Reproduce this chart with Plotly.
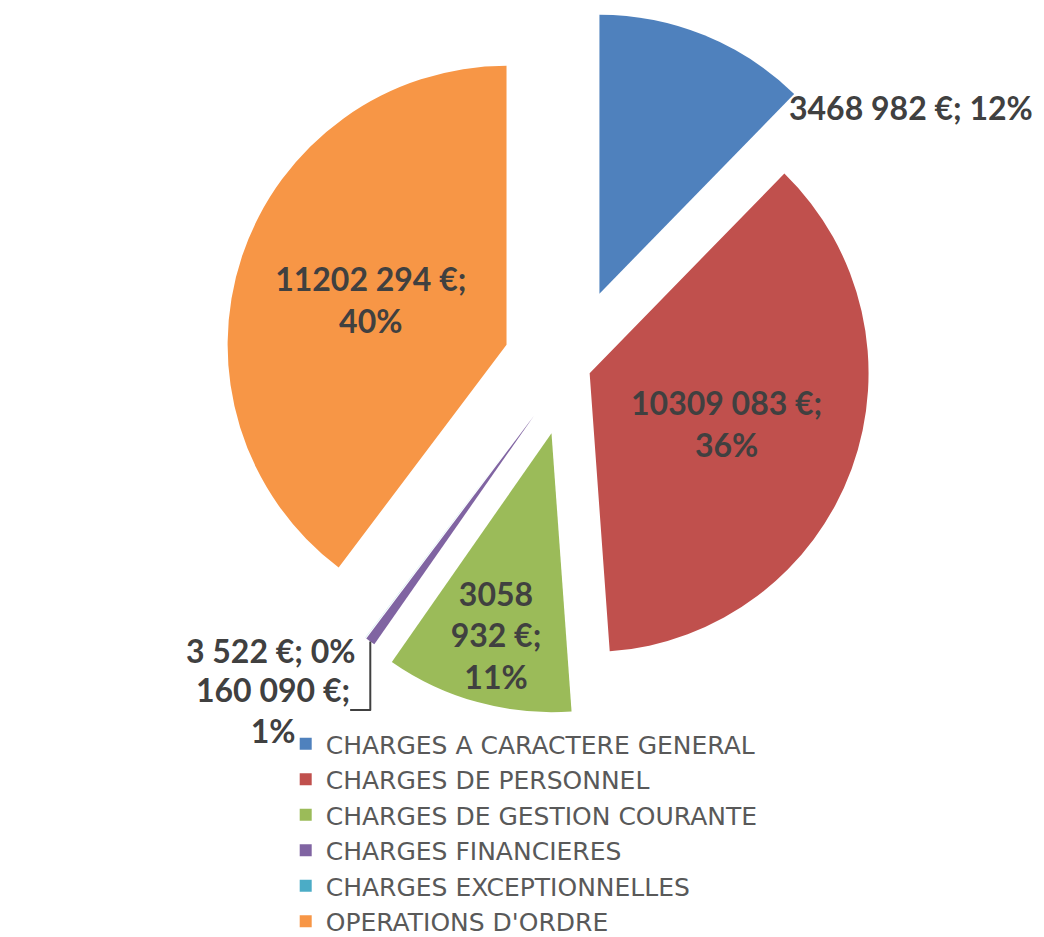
import plotly.graph_objects as go

categories = [
    "CHARGES A CARACTERE GENERAL",
    "CHARGES DE PERSONNEL",
    "CHARGES DE GESTION COURANTE",
    "CHARGES FINANCIERES",
    "CHARGES EXCEPTIONNELLES",
    "OPERATIONS D'ORDRE",
]
values = [3468982, 10309083, 3058932, 160090, 3522, 11202294]
label_texts = [
    "3468 982 €; 12%",
    "10309 083 €;<br>36%",
    "3058<br>932 €;<br>11%",
    "160 090 €;<br>1%",
    "3 522 €; 0%",
    "11202 294 €;<br>40%",
]
colors = ["#4F81BD", "#C0504D", "#9BBB59", "#8064A2", "#4BACC6", "#F79646"]
pulls = [0.28, 0.075, 0.25, 0.22, 0.22, 0.24]
# first slice's label is drawn as a separate annotation (placed beside its slice)
text_positions = ["none", "inside", "inside", "outside", "outside", "inside"]

W, H = 1044, 937
cx, cy = 562, 358
half = 357
label_font = dict(family="Lato, Calibri, sans-serif", size=32, color="#404040", weight="bold")

fig = go.Figure(
    go.Pie(
        labels=categories,
        values=values,
        text=label_texts,
        textinfo="text",
        textposition=text_positions,
        insidetextorientation="horizontal",
        sort=False,
        direction="clockwise",
        rotation=0,
        pull=pulls,
        automargin=False,
        marker=dict(colors=colors, line=dict(width=0)),
        textfont=label_font,
        domain=dict(x=[(cx - half) / W, (cx + half) / W],
                    y=[max(0, 1 - (cy + half) / H), min(1, 1 - (cy - half) / H)]),
        hoverinfo="label+value+percent",
    )
)

fig.add_annotation(
    text=label_texts[0],
    xref="paper", yref="paper",
    x=779 / W, y=1 - 100 / H,
    xanchor="left", yanchor="middle",
    showarrow=False,
    font=label_font,
)

fig.update_layout(
    width=W,
    height=H,
    margin=dict(l=0, r=0, t=0, b=0, autoexpand=False),
    paper_bgcolor="white",
    plot_bgcolor="white",
    uniformtext=dict(minsize=32, mode="show"),
    showlegend=True,
    legend=dict(
        x=0.266, y=0.239, xanchor="left", yanchor="top",
        font=dict(family="DejaVu Sans, Calibri, sans-serif", size=25, color="#595959"),
        bgcolor="rgba(0,0,0,0)",
        itemwidth=30,
        tracegroupgap=0,
    ),
)

fig.write_html("out.html")
